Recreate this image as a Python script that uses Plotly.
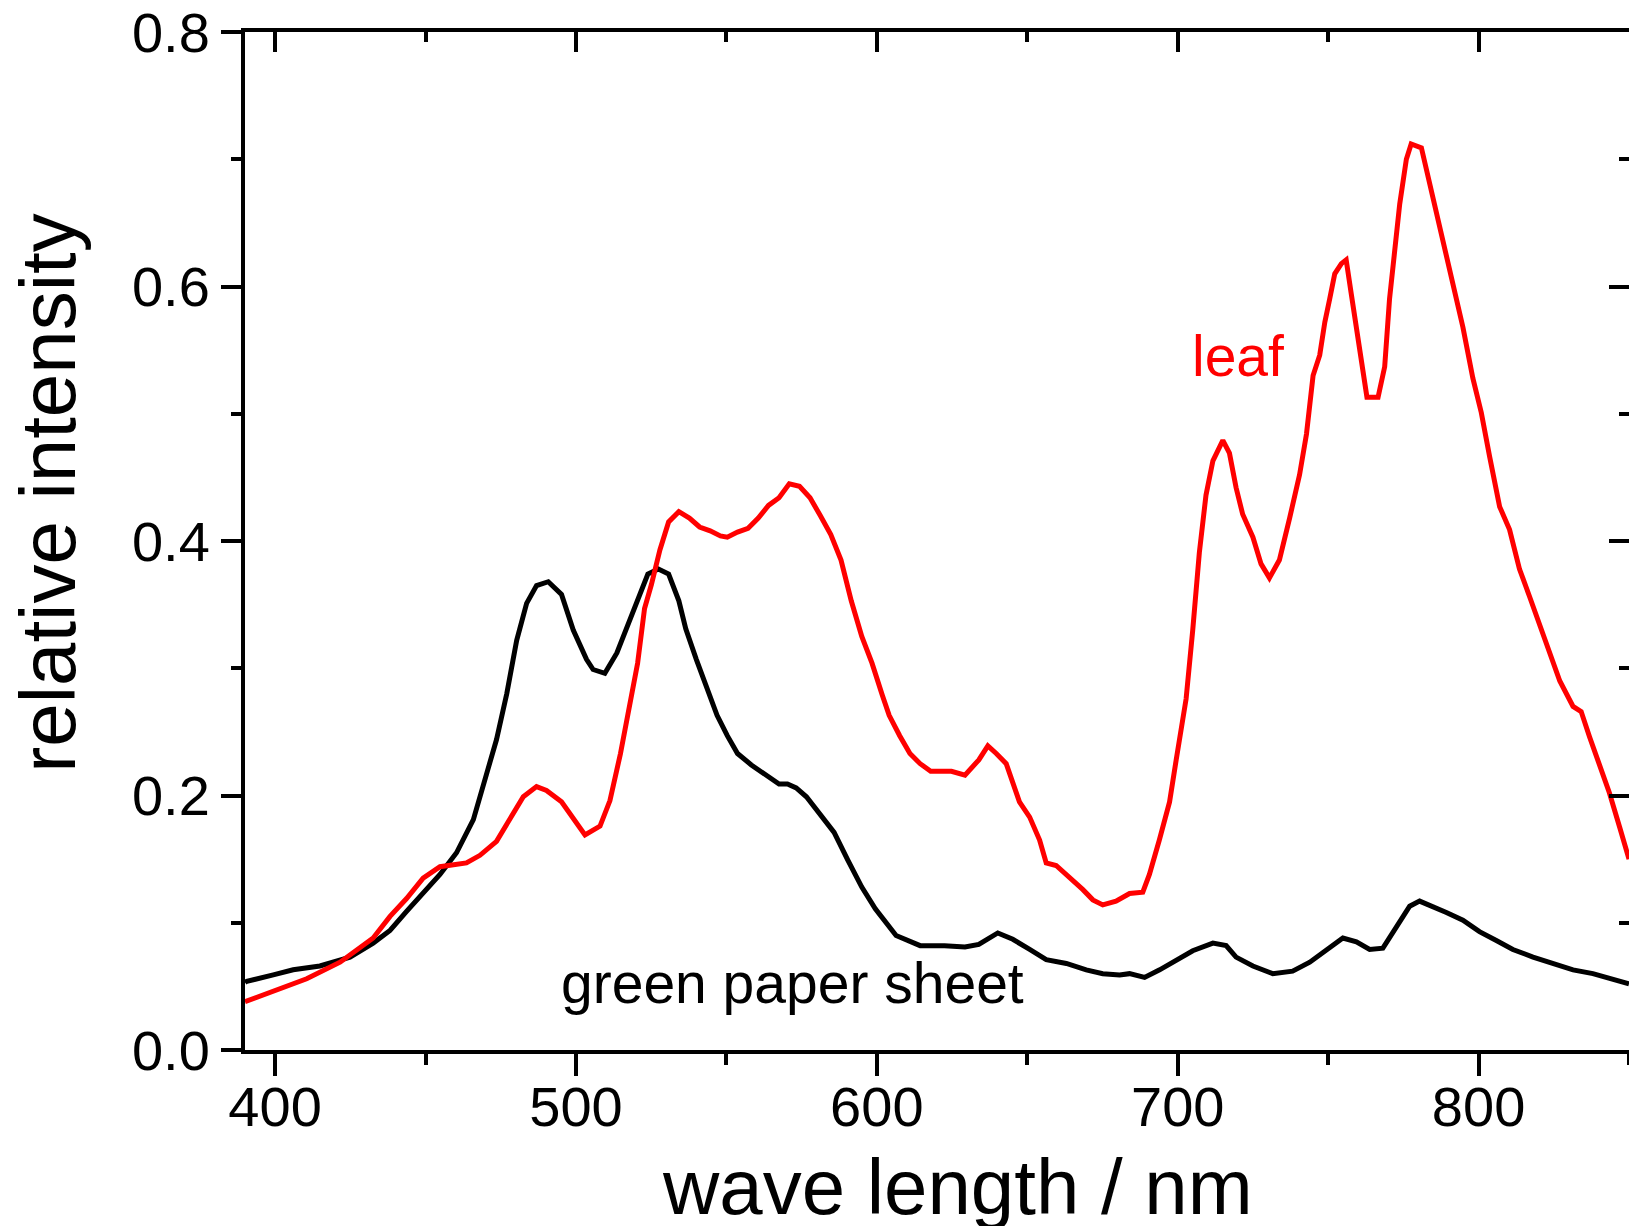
import plotly.graph_objects as go

# green paper sheet (black)
paper_wl = [390, 390.6, 399.4, 406, 414.9, 424.9, 432.6, 438.2, 443.7, 449.2, 454.8,
            460.3, 465.9, 470.3, 473.6, 477, 480.3, 483.6, 486.9, 490.8, 495.2,
            499.1, 503.5, 505.7, 509.6, 513.6, 517.1, 520.5, 523.9, 527.4, 530.8,
            534.2, 536.5, 540, 543.4, 546.9, 550.3, 553.7, 558.3, 562.9, 567.5,
            570.3, 573.2, 576.6, 581.2, 585.8, 590.4, 595, 599.5, 606.4, 614.4,
            622.5, 629.3, 633.9, 640.2, 645.2, 650.8, 656.3, 663, 669.6, 675.1,
            680.7, 684, 689, 694, 699.5, 705, 711.7, 716.1, 719.4, 725,
            731.6, 738.2, 743.9, 749.4, 754.9, 759.4, 763.8, 768.2, 772.7, 777.1,
            780.4, 784.8, 789.3, 794.8, 800.3, 805.9, 811.4, 818.1, 824.7, 831.4,
            838, 843.5, 850]
paper_int = [0.053, 0.054, 0.059, 0.063, 0.066, 0.073, 0.084, 0.094, 0.109, 0.123, 0.138,
             0.155, 0.181, 0.217, 0.244, 0.280, 0.322, 0.351, 0.365, 0.368, 0.358,
             0.330, 0.307, 0.299, 0.296, 0.312, 0.334, 0.355, 0.374, 0.378, 0.374,
             0.353, 0.331, 0.307, 0.285, 0.263, 0.247, 0.233, 0.224, 0.217, 0.209,
             0.209, 0.206, 0.199, 0.185, 0.171, 0.149, 0.128, 0.111, 0.090, 0.082,
             0.082, 0.081, 0.083, 0.092, 0.087, 0.079, 0.071, 0.068, 0.063, 0.060,
             0.059, 0.060, 0.057, 0.063, 0.071, 0.078, 0.084, 0.082, 0.073, 0.066,
             0.060, 0.062, 0.069, 0.079, 0.088, 0.085, 0.079, 0.080, 0.096, 0.113,
             0.117, 0.113, 0.108, 0.102, 0.093, 0.086, 0.079, 0.073, 0.068, 0.063,
             0.060, 0.056, 0.052]

# leaf (red)
leaf_wl = [390, 399.4, 410.5, 421.6, 432.6, 438.2, 443.7, 449.2, 454.8, 463.6,
           468.1, 473.6, 477, 482.5, 486.9, 490.2, 495.2, 499.1, 503, 508,
           511.3, 514.8, 518.2, 520.5, 522.8, 525.1, 527.9, 530.8, 534.2, 537.7,
           541.1, 544.6, 548, 550.3, 553.7, 557.2, 560.6, 564, 567.5, 570.9,
           574.3, 577.8, 581.2, 584.7, 588.1, 591.5, 595, 598.4, 601.8, 604.1,
           607.6, 611, 614.4, 617.9, 624.8, 629.3, 633.9, 636.9, 639.7, 643,
           647.4, 650.8, 654.1, 656.3, 659.6, 664, 668.5, 671.8, 675.1, 679.5,
           684, 688.4, 690.6, 693.9, 697.3, 699.5, 702.8, 705, 707.2, 709.4,
           711.7, 715, 717.2, 719.4, 721.6, 725, 727.7, 730.5, 733.8, 737.2,
           740.5, 742.8, 745, 747.2, 748.9, 750.5, 752.2, 754.4, 756, 757.7,
           759.9, 761.6, 762.9, 766.6, 768.8, 770.4, 772.1, 773.8, 776, 777.6,
           781, 783.2, 786, 788.7, 792, 794.8, 798.1, 800.9, 803.7, 807,
           810.3, 813.6, 817, 820.3, 823.6, 827, 831.4, 834.1, 836.9, 840.2,
           843.5, 846.9, 850]
leaf_int = [0.038, 0.046, 0.056, 0.069, 0.088, 0.105, 0.119, 0.135, 0.144, 0.147,
            0.153, 0.164, 0.178, 0.199, 0.207, 0.204, 0.195, 0.182, 0.169, 0.176,
            0.196, 0.233, 0.274, 0.304, 0.347, 0.366, 0.393, 0.415, 0.423, 0.418,
            0.411, 0.408, 0.404, 0.403, 0.407, 0.410, 0.418, 0.428, 0.434, 0.445,
            0.443, 0.434, 0.420, 0.405, 0.385, 0.353, 0.325, 0.304, 0.279, 0.263,
            0.247, 0.233, 0.225, 0.219, 0.219, 0.216, 0.228, 0.239, 0.233, 0.225,
            0.195, 0.183, 0.165, 0.147, 0.145, 0.136, 0.126, 0.118, 0.114, 0.117,
            0.123, 0.124, 0.138, 0.165, 0.195, 0.228, 0.276, 0.330, 0.391, 0.436,
            0.463, 0.479, 0.469, 0.442, 0.421, 0.403, 0.382, 0.371, 0.385, 0.418,
            0.452, 0.484, 0.530, 0.546, 0.572, 0.590, 0.610, 0.618, 0.621, 0.594,
            0.559, 0.528, 0.513, 0.513, 0.537, 0.590, 0.629, 0.665, 0.700, 0.712,
            0.709, 0.687, 0.660, 0.629, 0.598, 0.568, 0.528, 0.501, 0.466, 0.427,
            0.409, 0.378, 0.356, 0.334, 0.312, 0.290, 0.270, 0.266, 0.246, 0.224,
            0.202, 0.175, 0.150]

FONT = "Liberation Sans, Arial, sans-serif"
x_range = [390, 850]
y_range = [0, 0.8]

fig = go.Figure()
fig.add_trace(go.Scatter(x=paper_wl, y=paper_int, mode="lines",
                         line=dict(color="black", width=5), name="green paper sheet"))
# leaf on the overlay axes, so the top/right frame with inner ticks gets drawn
fig.add_trace(go.Scatter(x=leaf_wl, y=leaf_int, mode="lines", xaxis="x2", yaxis="y2",
                         line=dict(color="#ff0000", width=5), name="leaf"))

axis_common = dict(showline=True, linecolor="black", linewidth=4, showgrid=False,
                   zeroline=False, tickcolor="black", tickwidth=3.5, automargin=False,
                   fixedrange=True)

# the page body adds an 8 px offset, so margins are trimmed by that much
fig.update_layout(
    width=1637, height=1226,
    margin=dict(l=237, r=16, t=24, b=184, autoexpand=False),
    plot_bgcolor="white", paper_bgcolor="white",
    showlegend=False,
    font=dict(family=FONT, color="black", size=56),
    xaxis=dict(range=x_range, tick0=400, dtick=100, ticks="outside", ticklen=22,
               ticklabelstandoff=-17, ticklabeloverflow="allow",
               minor=dict(dtick=50, ticks="outside", ticklen=11, tickwidth=3.5, tickcolor="black"),
               tickfont=dict(size=56), **axis_common),
    yaxis=dict(range=y_range, tick0=0, dtick=0.2, tickformat=".1f", ticks="outside", ticklen=20,
               ticklabeloverflow="allow",
               minor=dict(dtick=0.1, ticks="outside", ticklen=10, tickwidth=3.5, tickcolor="black"),
               tickfont=dict(size=56), **axis_common),
    xaxis2=dict(range=x_range, overlaying="x", side="top", anchor="y2", tick0=400, dtick=100,
                ticks="inside", ticklen=20, showticklabels=False,
                minor=dict(dtick=50, ticks="inside", ticklen=10, tickwidth=3.5, tickcolor="black"),
                **axis_common),
    yaxis2=dict(range=y_range, overlaying="y", side="right", anchor="x2", tick0=0, dtick=0.2,
                ticks="inside", ticklen=20, showticklabels=False,
                minor=dict(dtick=0.1, ticks="inside", ticklen=10, tickwidth=3.5, tickcolor="black"),
                **axis_common),
)

# axis titles
fig.add_annotation(text="wave length / nm", xref="paper", yref="paper", x=0.515, y=-0.135,
                   xanchor="center", yanchor="middle", showarrow=False,
                   font=dict(size=78, family=FONT, color="black"))
fig.add_annotation(text="relative intensity", xref="paper", yref="paper", x=-0.142, y=0.547,
                   xanchor="center", yanchor="middle", textangle=-90, showarrow=False,
                   font=dict(size=78, family=FONT, color="black"))

# curve labels
fig.add_annotation(text="leaf", x=720.2, y=0.545, showarrow=False,
                   font=dict(size=57, family=FONT, color="#ff0000"))
fig.add_annotation(text="green paper sheet", x=571.9, y=0.0527, showarrow=False,
                   font=dict(size=57, family=FONT, color="black"))

fig.write_html("out.html")
